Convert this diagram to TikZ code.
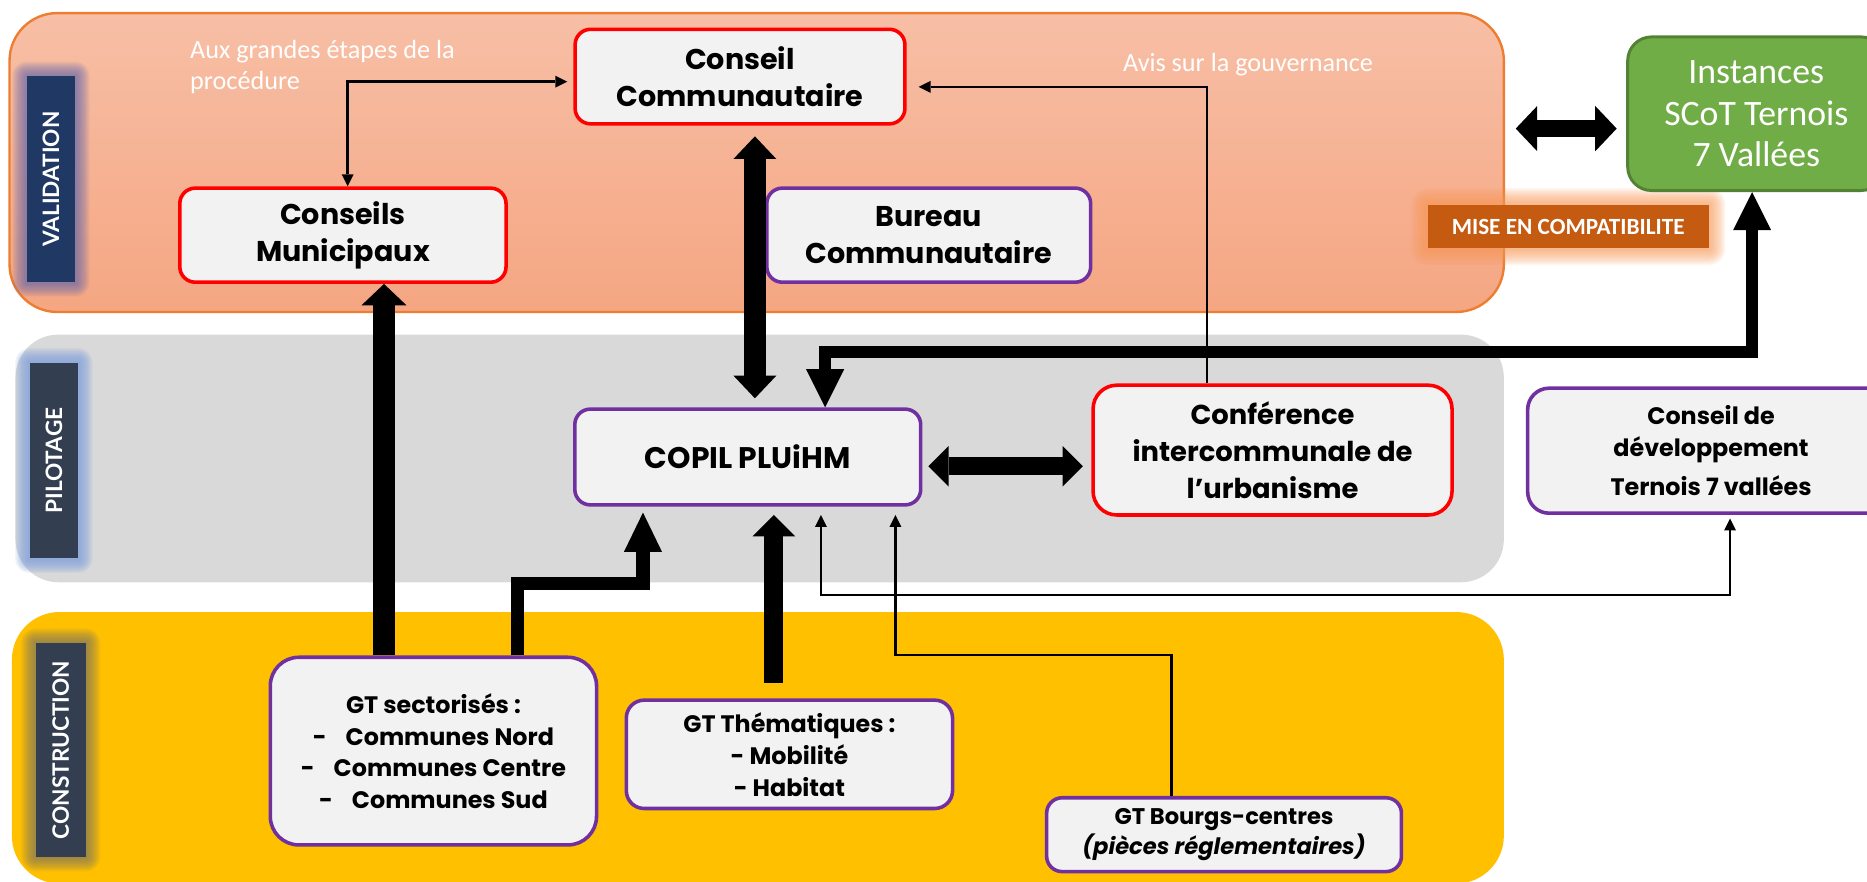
\documentclass[tikz,border=0pt]{standalone}
\usepackage{fontspec}
\setmainfont{Carlito}
\newfontfamily\popfont{Poppins}
\newfontfamily\latofont{Lato}
\usetikzlibrary{arrows.meta,calc}
\newcommand\fsz[2]{\fontsize{#1}{#2}\selectfont}
\pgfdeclarelayer{bg}
\pgfdeclarelayer{glowl}
\pgfsetlayers{bg,glowl,main}
\definecolor{valtop}{HTML}{F7BFA6}
\definecolor{valbot}{HTML}{F5A682}
\definecolor{valborder}{HTML}{ED7D31}
\definecolor{pilgray}{HTML}{D9D9D9}
\definecolor{conyellow}{HTML}{FFC000}
\definecolor{boxfill}{HTML}{F2F2F2}
\definecolor{redb}{HTML}{FF0000}
\definecolor{purpleb}{HTML}{7030A0}
\definecolor{greenf}{HTML}{70AD47}
\definecolor{greenb}{HTML}{548235}
\definecolor{compat}{HTML}{C55A11}
\definecolor{navy}{HTML}{203864}
\definecolor{slate}{HTML}{333F50}
\definecolor{glowval}{HTML}{5A62B0}
\definecolor{glowpil}{HTML}{7E9FDA}
\definecolor{glowcon}{HTML}{6F6F6F}
\definecolor{gloworange}{HTML}{F79A5A}
\tikzset{
  panel/.style={rectangle, rounded corners=40pt, inner sep=0pt},
  box/.style={rectangle, rounded corners=13pt, fill=boxfill, line width=3pt, inner sep=0pt, align=center, text=black},
  redbox/.style={box, draw=redb},
  purplebox/.style={box, draw=purpleb},
  sidelabel/.style={rectangle, inner sep=0pt, text=white, font=\latofont\bfseries\fsz{19}{20}},
  whitetext/.style={inner sep=0pt, text=white, font=\fsz{22}{26}},
  thinline/.style={line width=2.2pt, line join=miter},
  thinend/.style={thinline, -{Triangle[width=10pt,length=10pt,line width=0pt]}},
  thinboth/.style={thinline, {Triangle[width=10pt,length=10pt,line width=0pt]}-{Triangle[width=10pt,length=10pt,line width=0pt]}},
  fatend/.style n args={3}{line width=#1, line join=miter, -{Triangle[width=#2,length=#3,line width=0pt]}},
  fatboth/.style n args={3}{line width=#1, line join=miter, {Triangle[width=#2,length=#3,line width=0pt]}-{Triangle[width=#2,length=#3,line width=0pt]}},
}
\begin{document}
\begin{tikzpicture}[x=1pt,y=-1pt]
\useasboundingbox (0,0) rectangle (1568,740);

% ---------- panels ----------
\begin{pgfonlayer}{bg}
\node[panel, draw=valborder, line width=2pt, top color=valtop, bottom color=valbot,
      minimum width=1255pt, minimum height=251pt] (val) at (635.5,136.5) {};
\node[panel, fill=pilgray, rounded corners=36pt, minimum width=1250pt, minimum height=208pt] (pil) at (638,385) {};
\node[panel, fill=conyellow, minimum width=1253pt, minimum height=228pt] (con) at (636.5,628) {};
\end{pgfonlayer}

% ---------- side labels ----------
\node[sidelabel, fill=navy, minimum width=40.5pt, minimum height=173pt] (vlab) at (42.75,150.5) {\rotatebox{90}{VALIDATION}};
\node[sidelabel, fill=slate, minimum width=40.5pt, minimum height=164.4pt] (plab) at (45.25,386.8) {\rotatebox{90}{PILOTAGE}};
\node[sidelabel, fill=slate, minimum width=42pt, minimum height=179.6pt] (clab) at (51,629.8) {\rotatebox{90}{CONSTRUCTION}};

% ---------- nodes ----------
\node[redbox, minimum width=277pt, minimum height=79.4pt, font=\popfont\bfseries\fsz{24}{31}] (cc) at (621.5,64.3) {Conseil\\Communautaire};
\node[redbox, minimum width=274pt, minimum height=79pt, font=\popfont\bfseries\fsz{24}{31}] (cm) at (288,197.5) {Conseils\\Municipaux};
\node[purplebox, minimum width=272pt, minimum height=79pt, font=\popfont\bfseries\fsz{24}{31}] (bc) at (780,197.5) {Bureau\\Communautaire};
\node[purplebox, minimum width=290.5pt, minimum height=80.4pt, font=\popfont\bfseries\fsz{25}{31}] (copil) at (628,383.8) {COPIL PLUiHM};
\node[redbox, rounded corners=20pt, minimum width=301.5pt, minimum height=109pt, font=\popfont\bfseries\fsz{23}{31}] (conf) at (1068.75,378) {Conférence\\intercommunale de\\l’urbanisme};
\node[purplebox, rounded corners=18pt, minimum width=308pt, minimum height=105pt, font=\popfont\bfseries\fsz{20}{27}] (cdd) at (1437,378.5) {Conseil de\\développement\\[6pt]Ternois 7 vallées};
\node[purplebox, rounded corners=24pt, minimum width=274pt, minimum height=157.6pt, font=\popfont\bfseries\fsz{20}{26.5}] (gts) at (364,630.8) {GT sectorisés :\\-\hspace{16pt}Communes Nord\\-\hspace{16pt}Communes Centre\\-\hspace{16pt}Communes Sud};
\node[purplebox, rounded corners=15pt, minimum width=274pt, minimum height=91pt, font=\popfont\bfseries\fsz{20}{27}] (gtt) at (663,633.5) {GT Thématiques :\\- Mobilité\\- Habitat};
\node[purplebox, rounded corners=13pt, minimum width=298pt, minimum height=62pt, font=\popfont\bfseries\fsz{19}{25.5}] (gtb) at (1028,701) {GT Bourgs-centres\\{\itshape (pièces réglementaires)}};
\node[rectangle, rounded corners=20pt, fill=greenf, draw=greenb, line width=2.5pt, inner sep=0pt, align=center, text=white,
      minimum width=216pt, minimum height=129pt, font=\fsz{30}{35}] (inst) at (1475,95.5) {Instances\\SCoT Ternois\\7 Vallées};
\node[rectangle, fill=compat, inner sep=0pt, text=white, minimum width=236pt, minimum height=36.6pt,
      font=\bfseries\fsz{19.5}{20}] (mec) at (1317,190.3) {MISE EN COMPATIBILITE};

% ---------- free texts ----------
\node[whitetext, anchor=north west, align=left] (t1) at (159.5,34) {Aux grandes étapes de la\\procédure};
\node[whitetext, anchor=base west] (t2) at (943,60) {Avis sur la gouvernance};

% ---------- glows ----------
\begin{pgfonlayer}{glowl}
\foreach \k in {1,...,12}{
  \fill[glowval, opacity=0.08, rounded corners={\k pt}] ([shift={(-\k,\k)}]vlab.south west) rectangle ([shift={(\k,-\k)}]vlab.north east);
  \fill[glowpil, opacity=0.11, rounded corners={\k pt}] ([shift={(-\k,\k)}]plab.south west) rectangle ([shift={(\k,-\k)}]plab.north east);
  \fill[glowcon, opacity=0.08, rounded corners={\k pt}] ([shift={(-\k,\k)}]clab.south west) rectangle ([shift={(\k,-\k)}]clab.north east);
}
\foreach \k in {1,...,14}{
  \fill[gloworange, opacity=0.08, rounded corners={\k pt}] ([shift={(-\k,\k)}]mec.south west) rectangle ([shift={(\k,-\k)}]mec.north east);
}
\end{pgfonlayer}

% ---------- connector coordinates ----------
\coordinate (xA) at (322.5,0);
\coordinate (xB) at (434.5,0);
\coordinate (cB) at (540,490);
\coordinate (xD) at (650,0);
\coordinate (xE) at (634,0);
\coordinate (xF) at (693,0);
\coordinate (cF) at (1471.5,295.6);
\coordinate (yH) at (0,391.6);
\coordinate (cI) at (292,68.6);
\coordinate (cJ) at (1013.6,73);
\coordinate (xK) at (984,0);
\coordinate (cL) at (752,550);
\coordinate (xM) at (689.5,0);
\coordinate (cN) at (1453,499.7);
\coordinate (yO) at (0,108);

% ---------- connectors ----------
\draw[fatend={19pt}{38pt}{18pt}] (gts.north -| xA) -- (cm.south -| xA);
\draw[fatend={11.5pt}{32pt}{33pt}, shorten >=5pt] (gts.north -| xB) |- (cB) -- (copil.south -| cB);
\draw[fatend={16pt}{36pt}{18pt}, shorten <=13pt, shorten >=7pt] (gtt.north -| xD) -- (copil.south -| xD);
\draw[fatboth={19pt}{36pt}{19pt}, shorten <=9pt, shorten >=7.6pt] (cc.south -| xE) -- (copil.north -| xE);
\draw[fatboth={10.5pt}{32pt}{32pt}] (copil.north -| xF) |- (cF) -- (inst.south -| cF);
\draw[fatboth={15pt}{34pt}{17pt}, shorten <=5pt, shorten >=7pt] (copil.east |- yH) -- (conf.west |- yH);
\draw[fatboth={14pt}{38pt}{18pt}, shorten <=9pt, shorten >=8pt] (val.east |- yO) -- (inst.west |- yO);
\draw[thinboth, shorten >=5pt] (cm.north -| cI) |- (cc.west |- cI);
\draw[thinend, shorten >=10pt] (conf.north -| cJ) |- (cc.east |- cJ);
\draw[thinend, shorten >=7pt] (gtb.north -| xK) |- (cL) -- (copil.south -| cL);
\draw[thinboth, shorten <=7pt, shorten >=3pt] (copil.south -| xM) |- (cN) -- (cdd.south -| cN);
\end{tikzpicture}
\end{document}
